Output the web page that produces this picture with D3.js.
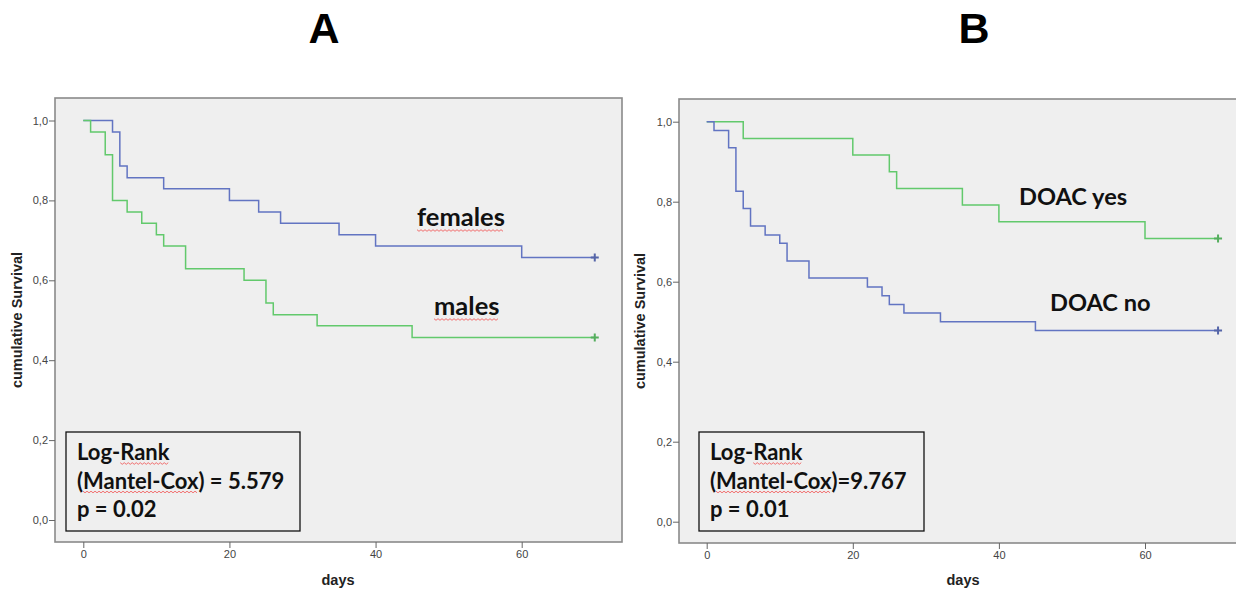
<!DOCTYPE html>
<html>
<head>
<meta charset="utf-8">
<script src="https://cdn.jsdelivr.net/npm/d3@7"></script>
<style>
  body { margin: 0; background: #fff; }
  svg { display: block; }
  .tick text { font-family: "Liberation Sans", Arial, sans-serif; font-size: 11px; fill: #444; }
  .axis-title { font-family: "Liberation Sans", Arial, sans-serif; font-size: 14.5px; font-weight: bold; fill: #222; }
  .lbl { font-family: Lato, "Open Sans", sans-serif; font-weight: 700; fill: #111; }
</style>
</head>
<body>
<div id="chart"></div>
<script>
// survival curves (day of each step, survival after it)
var femalesDays = [0, 4, 5, 6, 11, 20, 24, 27, 35, 40, 60, 70];
var femalesSurv = [1, 0.971, 0.886, 0.857, 0.829, 0.800, 0.771, 0.743, 0.714, 0.686, 0.657, 0.657];
var malesDays = [0, 1, 3, 4, 6, 8, 10, 11, 14, 22, 25, 26, 32, 45, 70];
var malesSurv = [1, 0.971, 0.914, 0.800, 0.771, 0.743, 0.714, 0.686, 0.629, 0.600, 0.543, 0.514, 0.486, 0.457, 0.457];
var doacYesDays = [0, 5, 20, 25, 26, 35, 40, 60, 70];
var doacYesSurv = [1, 0.958, 0.917, 0.875, 0.833, 0.792, 0.750, 0.708, 0.708];
var doacNoDays = [0, 1, 3, 4, 5, 6, 8, 10, 11, 14, 22, 24, 25, 27, 32, 45, 70];
var doacNoSurv = [1, 0.978, 0.935, 0.826, 0.783, 0.739, 0.717, 0.696, 0.652, 0.609, 0.587, 0.565, 0.543, 0.522, 0.500, 0.478, 0.478];

var xTicks = [0, 20, 40, 60];
var yTicks = [0, 0.2, 0.4, 0.6, 0.8, 1.0];
var panelTitles = ["A", "B"];
var statsA = ["Log-Rank", "(Mantel-Cox) = 5.579", "p = 0.02"];
var statsB = ["Log-Rank", "(Mantel-Cox)=9.767", "p = 0.01"];

const blue = "#6274C2";
const green = "#62C96C";

const W = 1236, H = 589;
var svg = d3.select("#chart").append("svg")
  .attr("width", W)
  .attr("height", H);

// panel geometry
var panels = [
  {title: panelTitles[0], tx: 324, frame: [55, 98, 622, 542], x0: 83.3, x60: 521.7, y0: 520, y1: 120.5,
   ylabX: 21.5, daysX: 338, stats: statsA, box: [66, 432, 300, 531], labSize: 25.5,
   series: [
     {days: femalesDays, surv: femalesSurv, color: blue, label: "females", lx: 417, ly: 226, wavy: [0, 7]},
     {days: malesDays, surv: malesSurv, color: green, label: "males", lx: 434, ly: 315, wavy: [0, 5]}
   ]},
  {title: panelTitles[1], tx: 974, frame: [679, 99, 1240, 543], x0: 706.7, x60: 1145, y0: 521.7, y1: 121.7,
   ylabX: 645, daysX: 963, stats: statsB, box: [699, 432, 924, 531], labSize: 23.6,
   series: [
     {days: doacYesDays, surv: doacYesSurv, color: green, label: "DOAC yes", lx: 1019, ly: 205},
     {days: doacNoDays, surv: doacNoSurv, color: blue, label: "DOAC no", lx: 1050, ly: 311}
   ]}
];

// red spell-check squiggle under a piece of text
function squiggle(g, x1, x2, y) {
  var pts = [];
  for (var x = x1, i = 0; x <= x2; x += 2, i++) pts.push([x, y + (i % 2 ? 1.3 : -0.3)]);
  g.append("path")
    .attr("d", d3.line()(pts))
    .attr("fill", "none")
    .attr("stroke", "#F06060")
    .attr("stroke-width", 0.9);
}

function underlineChars(g, textNode, from, to, y) {
  var n = textNode.node();
  var a = n.getStartPositionOfChar(from).x;
  var b = n.getEndPositionOfChar(to - 1).x;
  squiggle(g, a, b, y);
}

panels.forEach(function(p) {
  var g = svg.append("g");
  var f = p.frame;

  g.append("text")
    .attr("x", p.tx)
    .attr("y", 43)
    .attr("text-anchor", "middle")
    .style("font-family", "'Liberation Sans', Arial, sans-serif")
    .style("font-weight", "bold")
    .style("font-size", "43px")
    .text(p.title);

  g.append("rect")
    .attr("x", f[0]).attr("y", f[1])
    .attr("width", f[2] - f[0]).attr("height", f[3] - f[1])
    .attr("fill", "#EFEFEF")
    .attr("stroke", "#8A8A8A")
    .attr("stroke-width", 1.6);

  var x = d3.scaleLinear().domain([0, 60]).range([p.x0, p.x60]);
  var y = d3.scaleLinear().domain([0, 1]).range([p.y0, p.y1]);

  var yAxis = d3.axisLeft(y)
    .tickValues(yTicks)
    .tickSize(6)
    .tickPadding(1)
    .tickFormat(d => d3.format(".1f")(d).replace(".", ","));
  g.append("g")
    .attr("transform", "translate(" + f[0] + ",0)")
    .call(yAxis)
    .call(a => a.select(".domain").remove())
    .call(a => a.selectAll(".tick line").attr("stroke", "#666"));

  var xAxis = d3.axisBottom(x)
    .tickValues(xTicks)
    .tickSize(6)
    .tickPadding(2);
  g.append("g")
    .attr("transform", "translate(0," + f[3] + ")")
    .call(xAxis)
    .call(a => a.select(".domain").remove())
    .call(a => a.selectAll(".tick line").attr("stroke", "#666"));

  g.append("text")
    .attr("class", "axis-title")
    .attr("x", p.daysX)
    .attr("y", 585)
    .attr("text-anchor", "middle")
    .text("days");

  g.append("text")
    .attr("class", "axis-title")
    .attr("transform", "translate(" + p.ylabX + "," + ((f[1] + f[3]) / 2) + ") rotate(-90)")
    .attr("text-anchor", "middle")
    .text("cumulative Survival");

  var line = d3.line()
    .x(d => x(d[0]))
    .y(d => y(d[1]))
    .curve(d3.curveStepAfter);

  p.series.forEach(function(s) {
    var pts = s.days.map((d, i) => [d, s.surv[i]]);
    g.append("path")
      .datum(pts)
      .attr("d", line)
      .attr("fill", "none")
      .attr("stroke", s.color)
      .attr("stroke-width", 1.5);

    // censor mark at the end
    var last = pts[pts.length - 1];
    g.append("path")
      .attr("d", "M" + (x(last[0]) - 4) + "," + y(last[1]) + "h8M" + x(last[0]) + "," + (y(last[1]) - 4) + "v8")
      .attr("stroke", d3.color(s.color).darker(0.4))
      .attr("stroke-width", 2);

    var t = g.append("text")
      .attr("class", "lbl")
      .attr("x", s.lx)
      .attr("y", s.ly)
      .style("font-size", p.labSize + "px")
      .text(s.label);
    if (s.wavy) underlineChars(g, t, s.wavy[0], s.wavy[1], s.ly + 4);
  });

  var b = p.box;
  g.append("rect")
    .attr("x", b[0]).attr("y", b[1])
    .attr("width", b[2] - b[0]).attr("height", b[3] - b[1])
    .attr("fill", "none")
    .attr("stroke", "#111")
    .attr("stroke-width", 1.3);

  p.stats.forEach(function(s, i) {
    var by = b[1] + 28 + i * 28.5;
    var t = g.append("text")
      .attr("class", "lbl")
      .attr("x", b[0] + 11)
      .attr("y", by)
      .style("font-size", "22px")
      .text(s);
    if (i == 0) underlineChars(g, t, 4, 8, by + 3);
    if (i == 1) underlineChars(g, t, 1, 11, by + 3);
  });
});
</script>
</body>
</html>
